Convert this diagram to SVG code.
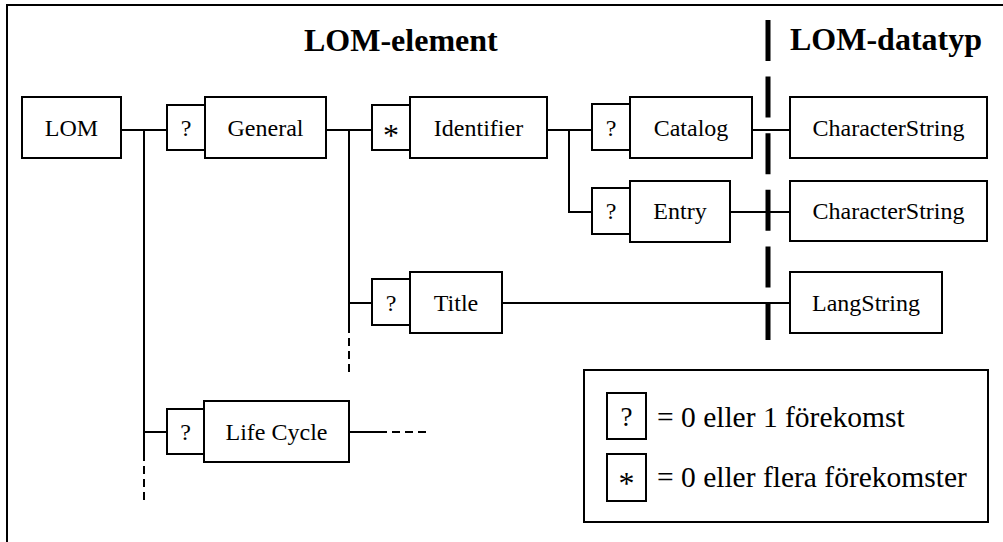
<svg xmlns="http://www.w3.org/2000/svg" width="1003" height="542" viewBox="0 0 1003 542">
  <style>
    .box { fill: #fff; stroke: #000; stroke-width: 2; }
    .ln { fill: none; stroke: #000; stroke-width: 2; }
    .dash { fill: none; stroke: #000; stroke-width: 2; stroke-dasharray: 8 5; }
    .sep { fill: none; stroke: #000; stroke-width: 5; stroke-dasharray: 41 15.6; }
    text { font-family: "Liberation Serif", "Times New Roman", serif; font-size: 24px; fill: #000; }
    .c { text-anchor: middle; }
    .head { font-weight: bold; font-size: 32px; }
    .key { font-size: 29.5px; }
    .sym { font-size: 27px; }
    .star { font-size: 32px; }
  </style>

  <!-- frame -->
  <rect x="7" y="5" width="1010" height="550" fill="#fff" stroke="#000" stroke-width="2"/>

  <!-- headings -->
  <text class="head" x="304" y="51">LOM-element</text>
  <text class="head" x="790" y="50">LOM-datatyp</text>

  <!-- connectors -->
  <g id="connectors">
    <!-- LOM branch -->
    <path class="ln" d="M121 130 H167 M144 130 V453 M144 432 H167"/>
    <path class="dash" d="M144 453 V503"/>
    <!-- General branch -->
    <path class="ln" d="M326 130 H372 M349 130 V325 M349 303 H372"/>
    <path class="dash" d="M349 325 V373"/>
    <!-- Identifier branch -->
    <path class="ln" d="M547 130 H592 M569 130 V212 H592"/>
    <!-- to data types -->
    <path class="ln" d="M752 130 H790 M730 212 H790 M502 303 H790"/>
    <!-- Life Cycle continuation -->
    <path class="ln" d="M349 432 H379"/>
    <path class="dash" d="M379 432 H426"/>
    <!-- element / datatype separator -->
    <path class="sep" d="M768 20 V340"/>
  </g>

  <!-- nodes -->
  <g id="lom">
    <rect class="box" x="22" y="97" width="99" height="61"/>
    <text class="c" x="71.5" y="136">LOM</text>
  </g>
  <g id="general">
    <rect class="box" x="167" y="105" width="38" height="45"/>
    <text class="c" x="186" y="136">?</text>
    <rect class="box" x="205" y="97" width="121" height="61"/>
    <text class="c" x="265.5" y="136">General</text>
  </g>
  <g id="identifier">
    <rect class="box" x="372" y="105" width="38" height="45"/>
    <text class="c star" x="391" y="146">*</text>
    <rect class="box" x="410" y="97" width="137" height="61"/>
    <text class="c" x="478.5" y="136">Identifier</text>
  </g>
  <g id="catalog">
    <rect class="box" x="592" y="104" width="38" height="46"/>
    <text class="c" x="611" y="136">?</text>
    <rect class="box" x="630" y="97" width="122" height="61"/>
    <text class="c" x="691" y="136">Catalog</text>
  </g>
  <g id="entry">
    <rect class="box" x="592" y="188" width="38" height="46"/>
    <text class="c" x="611" y="219">?</text>
    <rect class="box" x="630" y="181" width="100" height="61"/>
    <text class="c" x="680" y="219">Entry</text>
  </g>
  <g id="title">
    <rect class="box" x="372" y="279" width="38" height="46"/>
    <text class="c" x="391" y="311">?</text>
    <rect class="box" x="410" y="272" width="92" height="61"/>
    <text class="c" x="456" y="311">Title</text>
  </g>
  <g id="lifecycle">
    <rect class="box" x="167" y="409" width="37" height="45"/>
    <text class="c" x="185.5" y="440">?</text>
    <rect class="box" x="204" y="401" width="145" height="61"/>
    <text class="c" x="276.5" y="440">Life Cycle</text>
  </g>
  <g id="catalog-type">
    <rect class="box" x="790" y="97" width="197" height="61"/>
    <text class="c" x="888.5" y="136">CharacterString</text>
  </g>
  <g id="entry-type">
    <rect class="box" x="790" y="181" width="197" height="60"/>
    <text class="c" x="888.5" y="219">CharacterString</text>
  </g>
  <g id="title-type">
    <rect class="box" x="790" y="272" width="152" height="61"/>
    <text class="c" x="866" y="311">LangString</text>
  </g>

  <!-- legend -->
  <g id="legend">
    <rect class="box" x="584" y="370" width="404" height="152"/>
    <rect class="box" x="607" y="393" width="39" height="46"/>
    <text class="c sym" x="626.5" y="426">?</text>
    <text class="key" x="657" y="427">= 0 eller 1 förekomst</text>
    <rect class="box" x="607" y="454" width="39" height="47"/>
    <text class="c star" x="626.5" y="494">*</text>
    <text class="key" x="657" y="487">= 0 eller flera förekomster</text>
  </g>
</svg>
